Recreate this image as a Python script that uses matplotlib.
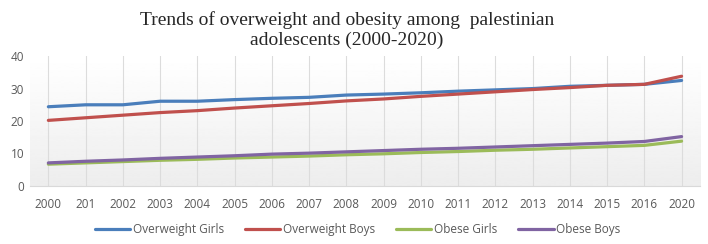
import matplotlib
matplotlib.use("Agg")
import matplotlib.pyplot as plt
import numpy as np

# data
years = ["2000", "201", "2002", "2003", "2004", "2005", "2006", "2007", "2008",
         "2009", "2010", "2011", "2012", "2013", "2014", "2015", "2016", "2020"]
overweight_girls = [24.4, 25.0, 25.0, 26.1, 26.1, 26.6, 27.0, 27.3, 28.0,
                    28.3, 28.7, 29.2, 29.6, 30.0, 30.7, 31.0, 31.3, 32.5]
overweight_boys = [20.2, 21.0, 21.8, 22.6, 23.2, 24.0, 24.7, 25.4, 26.2,
                   26.8, 27.6, 28.3, 29.0, 29.7, 30.3, 31.0, 31.3, 33.8]
obese_girls = [6.7, 7.1, 7.5, 7.9, 8.2, 8.6, 8.9, 9.2, 9.6,
               9.9, 10.3, 10.6, 11.0, 11.3, 11.7, 12.1, 12.5, 13.8]
obese_boys = [7.1, 7.6, 8.0, 8.5, 8.9, 9.3, 9.8, 10.1, 10.5,
              10.9, 11.3, 11.6, 12.0, 12.4, 12.8, 13.2, 13.7, 15.2]
yticks = [0, 10, 20, 30, 40]

series = [
    ("Overweight Girls", overweight_girls, "#4A7EBB"),
    ("Overweight Boys", overweight_boys, "#C0504D"),
    ("Obese Girls", obese_girls, "#9BBB59"),
    ("Obese Boys", obese_boys, "#8064A2"),
]

plt.rcParams['font.family'] = ['Open Sans', 'DejaVu Sans']

fig = plt.figure(figsize=(7.08, 2.44), dpi=100)
ax = fig.add_axes([0.042, 0.238, 0.947, 0.532])

x = np.arange(len(years))
ax.set_xlim(-0.5, len(years) - 0.5)
ax.set_ylim(0, 40)

# gradient background: white on top, light grey at the bottom
grad = np.linspace(1.0, 0.93, 256).reshape(-1, 1)
ax.imshow(grad, cmap="gray", vmin=0, vmax=1, aspect="auto",
          extent=[-0.5, len(years) - 0.5, 0, 40], origin="upper", zorder=0)

for xi in x:
    ax.axvline(xi, color="#dcdcdc", lw=0.8, zorder=1)

for name, vals, col in series:
    ax.plot(x, vals, color=col, lw=2.3, label=name, zorder=3,
            solid_capstyle="round")

for s in ["top", "right", "left"]:
    ax.spines[s].set_visible(False)
ax.spines["bottom"].set_color("#d9d9d9")

ax.set_xticks(x)
ax.set_xticklabels(years)
ax.set_yticks(yticks)
ax.tick_params(axis="both", length=0, labelsize=8.5, colors="#595959")
ax.tick_params(axis="x", pad=9)
ax.tick_params(axis="y", pad=4)

fig.suptitle("Trends of overweight and obesity among  palestinian\nadolescents (2000-2020)",
             x=0.49, y=0.955, fontsize=14, family=["Liberation Serif"],
             color="#262626", linespacing=1.2)

fig.legend(loc="lower center", bbox_to_anchor=(0.505, -0.01), ncol=4,
           frameon=False, fontsize=8.5, handlelength=3.0, columnspacing=1.8,
           handletextpad=0.2, labelcolor="#595959")

fig.savefig("out.png", dpi=100)
